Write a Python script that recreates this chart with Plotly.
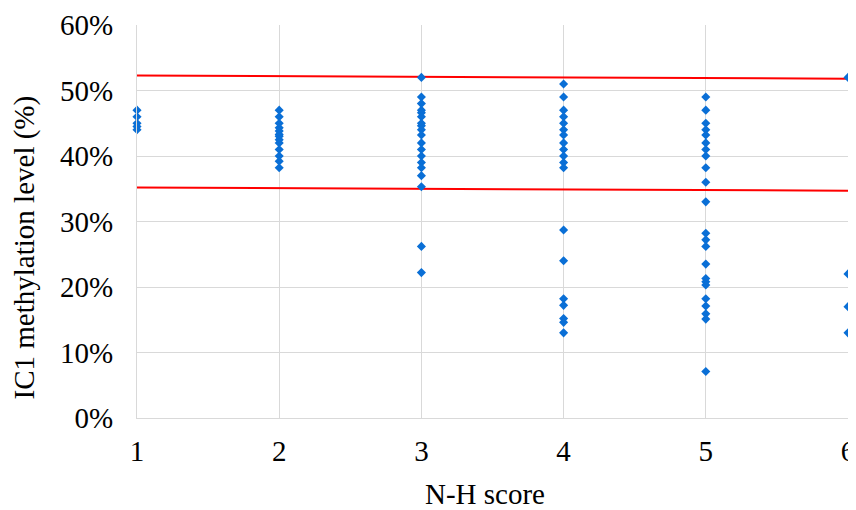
import plotly.graph_objects as go

# N-H score groups and IC1 methylation levels (%)
scores_1 = [47, 46, 45, 44.5, 44]
scores_2 = [47, 46, 45, 44.3, 43.8, 43.3, 43, 42.5, 42, 41, 40, 39.2, 38.2]
scores_3 = [52, 49, 48, 47, 46.6, 46, 45, 44.6, 44, 43.2, 42, 41, 40, 39, 38.2, 37, 35.3, 26.2, 22.2]
scores_4 = [51, 49, 47, 46, 45, 44, 43.2, 42, 41, 40, 39, 38.2, 28.7, 24, 18.2, 17.2, 15.2, 14.6, 13]
scores_5 = [49, 47, 45, 44, 43.2, 42, 41, 40, 38.2, 36, 33, 28.2, 27.2, 26.2, 23.5, 21.3, 20.8, 20.3,
            18.2, 17.1, 15.9, 15.1, 7.1]
scores_6 = [52, 22, 17, 13]

groups = [1, 2, 3, 4, 5, 6]
values = [scores_1, scores_2, scores_3, scores_4, scores_5, scores_6]

y_ticks = [0, 10, 20, 30, 40, 50, 60]
y_tick_labels = ["0%", "10%", "20%", "30%", "40%", "50%", "60%"]

line_x = [1, 6]
upper_line = [52.3, 51.8]
lower_line = [35.2, 34.7]

xs, ys = [], []
for g, vals in zip(groups, values):
    xs += [g] * len(vals)
    ys += vals

font_family = "Liberation Serif, Times New Roman, serif"

fig = go.Figure()
fig.add_trace(go.Scatter(x=line_x, y=upper_line, mode="lines",
                         line=dict(color="#ff0000", width=2), showlegend=False, hoverinfo="skip"))
fig.add_trace(go.Scatter(x=line_x, y=lower_line, mode="lines",
                         line=dict(color="#ff0000", width=2), showlegend=False, hoverinfo="skip"))
fig.add_trace(go.Scatter(x=xs, y=ys, mode="markers",
                         marker=dict(symbol="diamond", size=7, color="#0a6fd6"),
                         showlegend=False, cliponaxis=False))

fig.update_layout(
    width=848, height=502,
    margin=dict(l=129, r=8, t=17, b=92),
    paper_bgcolor="white", plot_bgcolor="white",
    font=dict(family=font_family, size=29, color="#000000"),
    annotations=[
        dict(text="N-H score", xref="paper", yref="paper", x=0.5, y=0,
             xanchor="center", yanchor="middle", xshift=-8, yshift=-76,
             showarrow=False, font=dict(size=29)),
        dict(text="IC1 methylation level (%)", xref="paper", yref="paper", x=0, y=0.434,
             xanchor="center", yanchor="middle", xshift=-113, textangle=-90,
             showarrow=False, font=dict(size=29)),
    ],
)
fig.update_xaxes(
    range=[1, 6], tickvals=groups, ticktext=[str(g) for g in groups],
    showgrid=True, gridcolor="#d9d9d9", gridwidth=1,
    showline=True, linecolor="#d9d9d9", mirror=False,
    zeroline=False, ticks="", ticklabelstandoff=7, automargin=False,
)
fig.update_yaxes(
    range=[0, 60], tickvals=y_ticks, ticktext=y_tick_labels,
    showgrid=True, gridcolor="#d9d9d9", gridwidth=1,
    showline=True, linecolor="#d9d9d9",
    zeroline=False, ticks="", ticklabelstandoff=17, automargin=False,
)

fig.write_html("out.html")
